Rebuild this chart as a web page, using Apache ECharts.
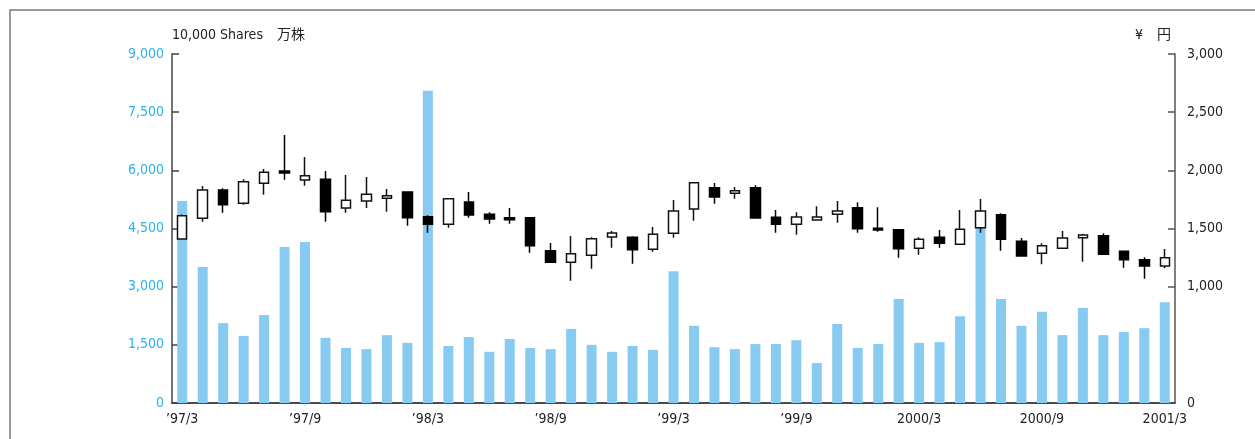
<!DOCTYPE html>
<html>
<head>
<meta charset="utf-8">
<script src="https://cdn.jsdelivr.net/npm/echarts@6/dist/echarts.min.js"></script>
<style>
html,body{margin:0;padding:0;background:#fff;}
#chart{width:1255px;height:439px;}
</style>
</head>
<body>
<div id="chart"></div>
<script>
var categories = [
  "’97/3","’97/4","’97/5","’97/6","’97/7","’97/8","’97/9","’97/10","’97/11","’97/12",
  "’98/1","’98/2","’98/3","’98/4","’98/5","’98/6","’98/7","’98/8","’98/9","’98/10","’98/11","’98/12",
  "’99/1","’99/2","’99/3","’99/4","’99/5","’99/6","’99/7","’99/8","’99/9","’99/10","’99/11","’99/12",
  "2000/1","2000/2","2000/3","2000/4","2000/5","2000/6","2000/7","2000/8","2000/9","2000/10","2000/11","2000/12",
  "2001/1","2001/2","2001/3"
];
// Volume (10,000 shares)
var volume = [
  5210,3510,2060,1730,2270,4020,4150,1680,1420,1390,
  1750,1550,8050,1470,1700,1320,1650,1420,1390,1910,1500,1320,
  1470,1370,3400,1990,1440,1390,1520,1520,1620,1030,2040,1420,
  1520,2680,1550,1570,2240,4510,2680,1990,2350,1750,2450,1750,
  1830,1930,2600
];
// Price (yen): open, close, low, high
var open  = [1410,1588,1831,1717,1889,1994,1917,1923,1676,1736,1760,1814,1601,1536,1728,1622,1593,1593,1309,1209,1270,1427,1424,1321,1459,1668,1851,1803,1851,1596,1536,1573,1622,1679,1502,1490,1330,1424,1364,1507,1619,1390,1287,1330,1421,1438,1304,1232,1178];
var close = [1610,1831,1705,1902,1983,1977,1954,1644,1742,1794,1782,1593,1536,1756,1616,1582,1576,1352,1209,1283,1412,1461,1318,1450,1650,1894,1771,1825,1590,1536,1599,1599,1650,1498,1487,1326,1407,1373,1493,1650,1407,1264,1352,1418,1444,1278,1232,1178,1249];
var low   = [1405,1558,1636,1705,1791,1920,1868,1558,1636,1676,1644,1524,1464,1507,1593,1541,1541,1292,1206,1051,1154,1335,1197,1301,1421,1567,1713,1756,1584,1464,1447,1570,1550,1464,1473,1249,1275,1335,1364,1464,1309,1258,1192,1330,1215,1275,1163,1069,1158];
var high  = [1620,1865,1846,1923,2012,2304,2115,1994,1960,1943,1840,1814,1614,1762,1814,1639,1676,1596,1375,1436,1424,1479,1433,1513,1745,1900,1891,1857,1871,1659,1639,1691,1736,1725,1682,1496,1424,1487,1659,1754,1631,1419,1373,1479,1455,1459,1304,1252,1324];
var leftTicks = [0,1500,3000,4500,6000,7500,9000];
var rightTicks = [0,1000,1500,2000,2500,3000];

var ohlc = [];
for (var i = 0; i < categories.length; i++) {
  ohlc.push([open[i], close[i], low[i], high[i]]);
}

var FONT = "'DejaVu Sans Condensed','Liberation Sans Narrow',sans-serif";
var chart = echarts.init(document.getElementById('chart'), null, {renderer:'canvas'});
chart.setOption({
  animation: false,
  backgroundColor: '#ffffff',
  graphic: [
    {type:'rect', shape:{x:10, y:10, width:1400, height:600}, style:{fill:'none', stroke:'#777', lineWidth:1.5}, silent:true},
    {type:'text', left:172, top:28, style:{text:'10,000 Shares　万株', font:"14px " + FONT + ",'Noto Sans CJK JP'", fill:'#222'}},
    {type:'text', left:1135, top:28, style:{text:'¥　円', font:"14px " + FONT + ",'Noto Sans CJK JP'", fill:'#222'}}
  ],
  grid: {left:172, right:80, top:54, bottom:36},
  xAxis: {
    type: 'category',
    data: categories,
    boundaryGap: true,
    axisLine: {lineStyle:{color:'#111', width:1.5}},
    axisTick: {show:false},
    axisLabel: {interval:5, color:'#222', fontSize:14, fontFamily:FONT, margin:9}
  },
  yAxis: [
    {
      type:'value', min:0, max:9000, interval:1500, position:'left',
      axisLine:{show:true, lineStyle:{color:'#444', width:1.5}},
      axisTick:{show:true, inside:true, length:7, lineStyle:{color:'#444', width:1.5}},
      splitLine:{show:false},
      axisLabel:{color:'#29B2EE', fontSize:14, fontFamily:FONT, margin:8,
        formatter:function(v){return v.toLocaleString('en-US');}}
    },
    {
      type:'value', min:0, max:3000, interval:500, position:'right',
      axisLine:{show:true, lineStyle:{color:'#555', width:1.5}},
      axisTick:{show:true, inside:true, length:7, lineStyle:{color:'#555', width:1.5}, customValues: rightTicks},
      splitLine:{show:false},
      axisLabel:{color:'#222', fontSize:14, fontFamily:FONT, margin:12, customValues: rightTicks,
        formatter:function(v){return rightTicks.indexOf(v) >= 0 ? v.toLocaleString('en-US') : '';}}
    }
  ],
  series: [
    {
      type:'bar', name:'volume', yAxisIndex:0, data:volume, barWidth:10,
      itemStyle:{color:'#88CBF2'}
    },
    {
      type:'candlestick', name:'price', yAxisIndex:1, data:ohlc, barWidth:10,
      itemStyle:{color:'#ffffff', color0:'#000000', borderColor:'#111', borderColor0:'#000', borderWidth:1.5}
    }
  ]
});
</script>
</body>
</html>
